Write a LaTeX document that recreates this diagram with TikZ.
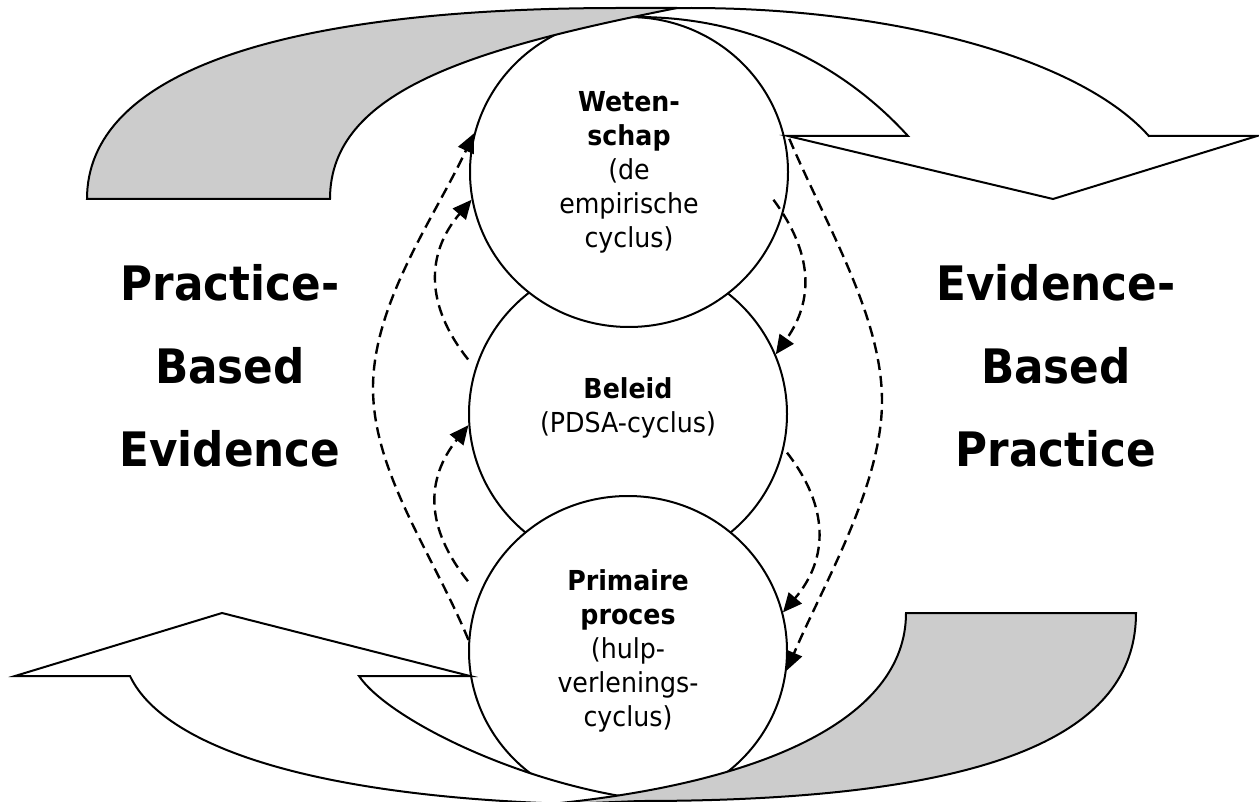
\documentclass[tikz,border=0pt]{standalone}
\usepackage{fontspec}
\setmainfont{DejaVu Sans}
\newfontfamily\narrowsans{DejaVu Sans}[FakeStretch=0.92]
\usetikzlibrary{arrows.meta,shapes.geometric}
\definecolor{armgrey}{RGB}{204,204,204}
\begin{document}
\begin{tikzpicture}[x=1pt,y=-1pt,
  circ/.style={ellipse,draw,fill=white,line width=2pt,minimum width=318pt,minimum height=310pt,inner sep=0pt},
  arm/.style={draw,line width=2pt,line join=miter},
  ctext/.style={align=center,font=\narrowsans\fontsize{27.5}{34}\selectfont,inner sep=0pt},
  bigtext/.style={align=center,font=\narrowsans\bfseries\fontsize{47.5}{83}\selectfont,inner sep=0pt},
  flow/.style={line width=2.4pt,dash pattern=on 11pt off 6pt,-{Triangle[length=19pt,width=17pt]}}
]
\useasboundingbox (0,0) rectangle (1259,802);

% circles
\node[circ] (M) at (628,414) {};
\node[circ] (T) at (629,172) {};
\node[circ] (B) at (628,651) {};

% top arrow: white front arm with head
\path[arm,fill=white] (637,17) .. controls (757,17) and (848,70) .. (908,136)
  -- (788,136) -- (1053,199) -- (1257,136) -- (1149,136)
  -- plot[domain=19.26:93.7,samples=60] ({691+485*cos(\x)},{199-191*sin(\x)}) -- cycle;
% top arrow: grey back arm
\path[arm,fill=armgrey] (87,199) .. controls (87,75) and (274,8) .. (620,8) -- (677,8)
  .. controls (477,48) and (330,89) .. (330,199) -- cycle;

% bottom arrow: white arm with head
\path[arm,fill=white] (130,676) -- (15,676) -- (222,613) -- (470,676) -- (359,676)
  .. controls (385,715) and (500,775) .. (620,796) -- (640,805)
  .. controls (330,805) and (165,750) .. (130,676) -- cycle;
% bottom arrow: grey arm
\path[arm,fill=armgrey] (906,613) -- (1136,613) .. controls (1136,723) and (1020,801) .. (640,801)
  -- (540,805) .. controls (760,785) and (906,720) .. (906,613) -- cycle;

% circle texts
\node[ctext] (tW) at (629,172) {\textbf{Weten-}\\\textbf{schap}\\(de\\empirische\\cyclus)};
\node[ctext] (tB) at (628,408) {\textbf{Beleid}\\(PDSA-cyclus)};
\node[ctext] (tP) at (628,651) {\textbf{Primaire}\\\textbf{proces}\\(hulp-\\verlenings-\\cyclus)};

% dashed connectors, left side (upwards)
\draw[flow] (B.176) .. controls +(-35,-85) and +(0,85) .. (373,388)
  .. controls +(0,-85) and +(-40,85) .. (T.166);
\draw[flow] ([xshift=-10pt]M.160) .. controls +(-43,-54) and +(-46,54) .. (T.190);
\draw[flow] ([xshift=-17pt]B.154) .. controls +(-43,-54) and +(-43,54) .. (M.184);
% dashed connectors, right side (downwards)
\draw[flow] ([xshift=4pt]T.12) .. controls +(36,85) and +(0,-85) .. (882,401)
  .. controls +(0,85) and +(36,-85) .. (B.353);
\draw[flow] ([xshift=-13pt]T.350) .. controls +(40,54) and +(38,-54) .. (M.22);
\draw[flow] ([xshift=4pt]M.346) .. controls +(42,54) and +(46,-54) .. (B.14);

% side labels
\node[bigtext] (pbe) at (230,366) {Practice-\\Based\\Evidence};
\node[bigtext] (ebp) at (1056,366) {Evidence-\\Based\\Practice};
\end{tikzpicture}
\end{document}
